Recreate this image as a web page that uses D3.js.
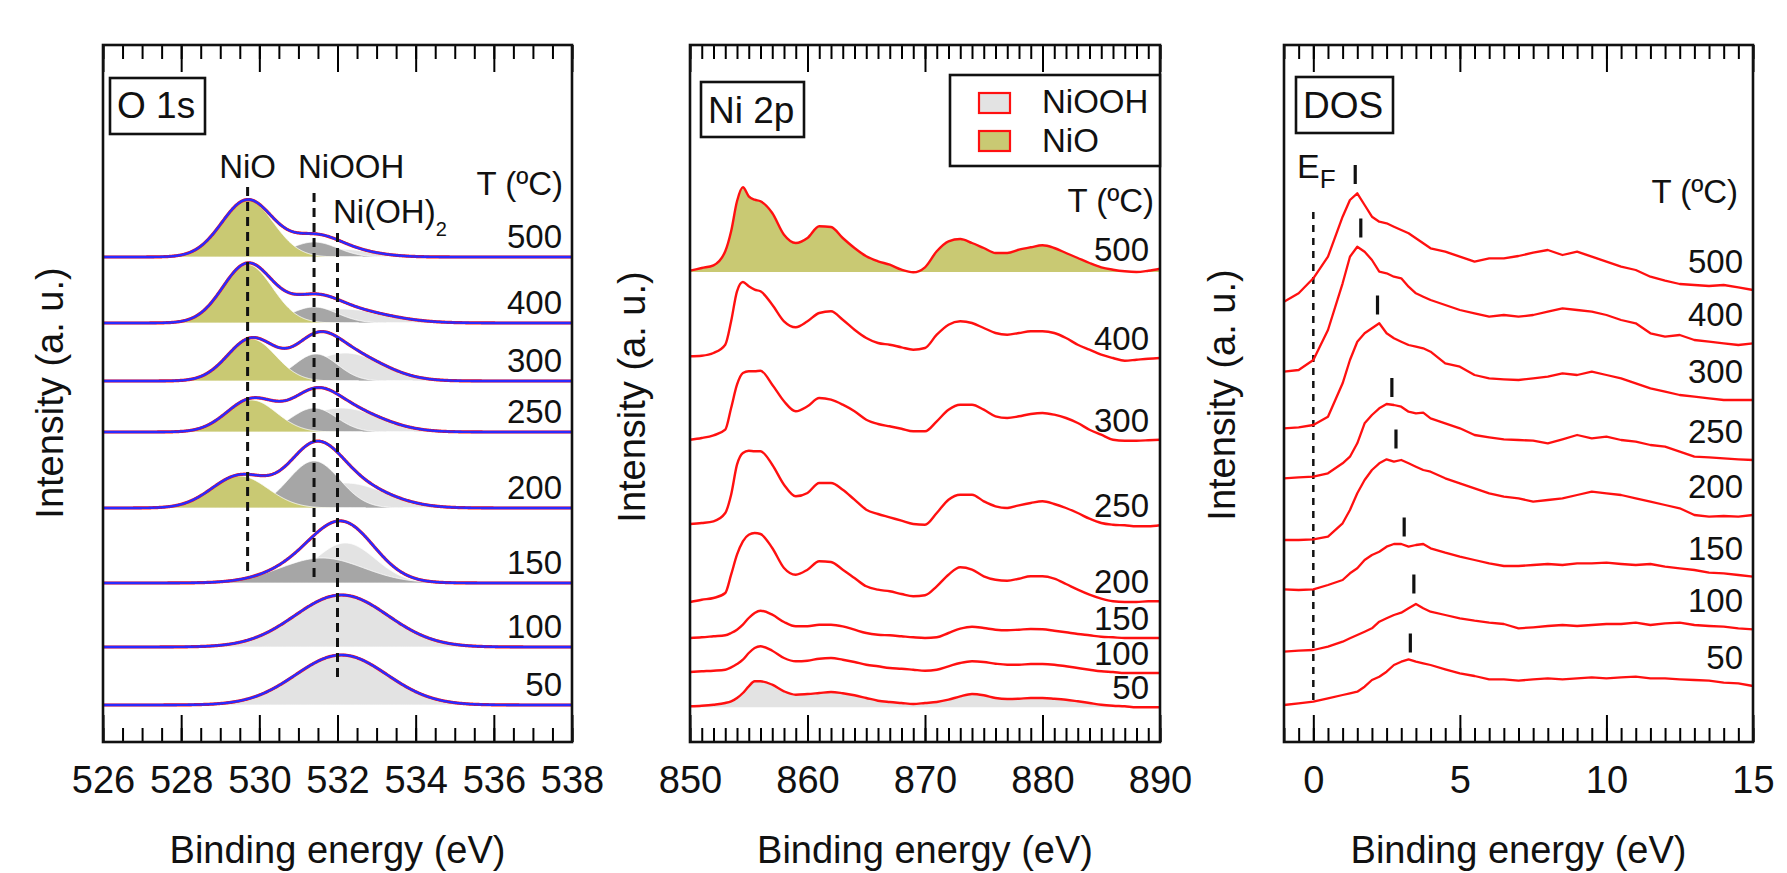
<!DOCTYPE html>
<html><head><meta charset="utf-8">
<script src="https://cdn.jsdelivr.net/npm/d3@7"></script>
<style>html,body{margin:0;padding:0;background:#fff;}svg{display:block;}</style>
</head><body><svg id="c" width="1787" height="873"></svg>
<script>
// ---------------- DATA ----------------
const temps = [500, 400, 300, 250, 200, 150, 100, 50];

// Panel 1: O 1s  (fitted components: [centre eV, height a.u., FWHM eV])
const o1sTicksMajor = [526, 528, 530, 532, 534, 536, 538];
const o1sBaseline = [48.5, 41.9, 36.1, 31.0, 23.4, 15.9, 9.5, 3.7];
const o1sNiO   = [[529.7,5.7,1.55],[529.7,5.85,1.5],[529.8,4.2,1.45],[529.8,3.2,1.5],[529.5,3.2,1.7],null,null,null];
const o1sNiOOH = [[531.4,1.5,1.4],[531.4,1.6,1.4],[531.45,2.7,1.3],[531.4,2.4,1.35],[531.4,4.7,1.55],[531.6,2.5,2.5],null,null];
const o1sNiOH2 = [[532.0,0.8,2.0],[532.1,1.4,2.6],[532.2,2.8,2.2],[532.1,2.4,2.3],[532.2,2.5,2.4],[532.2,4.0,1.8],[532.1,5.2,2.8],[532.1,5.0,2.75]];
const o1sRefEnergy = [529.7, 531.4, 532.0];
const o1sRefTop    = [55.5, 54.9, 50.9];
const o1sRefBottom = [16.9, 16.4, 6.4];

// Panel 2: Ni 2p
const ni2pTicksMajor = [850, 860, 870, 880, 890];
const ni2pEnergy = [850,851,852,853,853.5,854,854.5,855,855.5,856,857,858,859,860,861,862,863,864,865,866,867,868,869,870,871,872,873,874,875,876,877,878,879,880,881,882,883,884,885,886,887,888,889,890];
const ni2p500 = [47.13,47.4,47.67,49.07,51.07,54.07,55.47,54.57,54.23,54.07,52.9,50.73,49.9,50.4,51.57,51.5,50.4,49.4,48.57,48.07,47.73,47.23,46.97,47.47,49.07,50.07,50.3,49.9,49.4,48.9,48.9,49.23,49.47,49.67,49.4,48.9,48.4,47.9,47.47,47.23,47.07,47.0,47.13,47.33];
const ni2p400 = [38.57,38.63,38.9,39.73,42.07,45.07,46.0,45.57,45.23,45.07,43.73,42.07,41.47,42.07,42.9,43.07,42.23,41.23,40.4,39.9,39.73,39.47,39.23,39.4,40.73,41.73,42.07,41.9,41.4,40.9,40.73,40.9,41.07,41.07,40.9,40.4,39.73,39.23,38.73,38.4,38.13,38.23,38.33,38.4];
const ni2p300 = [30.23,30.4,30.67,31.23,33.4,35.73,36.9,37.07,37.07,37.13,35.73,34.07,33.07,33.57,34.4,34.23,33.73,33.07,32.23,31.8,31.57,31.33,31.07,31.07,32.07,33.23,33.73,33.73,33.23,32.57,32.4,32.57,32.8,32.9,32.73,32.4,31.9,31.23,30.73,30.23,30.13,30.13,30.17,30.23];
const ni2p250 = [21.8,21.9,22.07,22.9,24.73,27.73,28.9,29.13,29.07,29.07,27.73,25.73,24.57,24.9,25.9,25.9,25.23,24.23,23.23,22.8,22.47,22.13,21.8,21.73,22.9,24.23,24.73,24.73,24.07,23.57,23.4,23.67,23.9,24.07,23.8,23.4,22.9,22.33,21.9,21.73,21.67,21.57,21.57,21.67];
const ni2p200 = [14.0,14.23,14.4,14.9,16.73,18.73,20.07,20.73,20.9,20.8,19.4,17.4,16.73,17.23,18.07,18.0,17.23,16.4,15.57,15.23,15.07,14.8,14.57,14.67,15.57,16.73,17.47,17.23,16.57,16.23,16.13,16.33,16.57,16.57,16.33,15.8,15.23,14.73,14.33,14.07,14.0,14.0,14.07,14.07];
const ni2p150 = [10.4,10.47,10.57,10.67,10.9,11.23,11.73,12.4,12.9,13.13,12.73,12.0,11.57,11.57,11.73,11.73,11.57,11.23,10.9,10.73,10.67,10.57,10.47,10.4,10.47,10.9,11.33,11.53,11.4,11.23,11.17,11.23,11.3,11.27,11.13,10.97,10.8,10.67,10.53,10.47,10.4,10.4,10.4,10.4];
const ni2p100 = [7.0,7.07,7.13,7.23,7.47,7.8,8.23,8.9,9.4,9.57,9.13,8.4,8.07,8.13,8.33,8.4,8.23,8.0,7.73,7.57,7.4,7.33,7.23,7.13,7.23,7.57,7.9,8.07,8.0,7.83,7.73,7.73,7.8,7.8,7.73,7.57,7.4,7.23,7.07,7.0,6.9,6.9,6.9,6.9];
const ni2p50  = [3.57,3.63,3.73,3.9,4.07,4.4,4.9,5.57,6.07,6.07,5.73,5.07,4.73,4.8,4.9,5.0,4.87,4.67,4.4,4.13,4.0,3.9,3.8,3.9,4.0,4.23,4.57,4.8,4.67,4.4,4.3,4.33,4.4,4.4,4.33,4.23,4.07,3.9,3.73,3.63,3.57,3.47,3.47,3.47];
const ni2pSeries = [ni2p500, ni2p400, ni2p300, ni2p250, ni2p200, ni2p150, ni2p100, ni2p50];
const ni2pFillIndex = [0, 7];
const ni2pFillBase  = [47.0, 3.47];
const ni2pFillPhase = ['NiO', 'NiOOH'];
const legendLabels = ['NiOOH', 'NiO'];

// Panel 3: DOS
const dosTicksMajor = [0, 5, 10, 15];
const dosEnergy = [-1,-0.5,0,0.5,1,1.25,1.5,1.75,2,2.25,2.5,2.75,3,3.25,3.5,3.75,4,4.5,5,5.5,6,6.5,7,7.5,8,8.5,9,9.5,10,10.5,11,11.5,12,12.5,13,13.5,14,14.5,15];
const dos500 = [44.03,44.87,46.37,48.53,52.53,54.2,54.87,53.7,52.53,52.03,51.87,51.53,51.2,50.87,50.37,49.87,49.37,49.03,48.53,48.03,48.37,48.37,48.6,48.93,49.2,48.7,49.03,48.53,48.03,47.53,47.2,46.53,46.13,45.8,45.7,45.6,45.7,45.47,45.2];
const dos400 = [37.03,37.2,38.2,41.2,45.87,48.53,49.53,49.03,48.2,47.03,46.87,46.53,46.37,45.53,44.87,44.53,44.2,43.7,43.2,42.87,42.53,42.7,42.53,42.7,43.03,43.37,43.2,43.03,42.7,42.2,41.87,40.87,40.53,40.7,40.2,40.03,39.87,39.7,39.87];
const dos300 = [31.37,31.47,31.7,32.53,35.87,38.2,40.03,40.87,41.37,41.87,40.87,40.37,40.03,39.7,39.53,39.37,39.03,37.87,37.53,36.7,36.37,36.27,36.2,36.37,36.53,36.87,36.7,37.03,36.7,36.37,35.87,35.37,35.03,34.7,34.53,34.37,34.2,34.2,34.2];
const dos250 = [26.37,26.47,26.53,26.87,27.87,28.53,29.87,31.87,32.7,33.37,33.8,33.7,33.53,33.03,32.87,32.93,32.37,31.87,31.37,30.7,30.47,30.27,30.2,30.13,29.87,30.27,30.7,30.37,30.53,30.2,30.03,29.7,29.53,29.03,28.53,28.47,28.37,28.27,28.2];
const dos200 = [20.2,20.2,20.27,20.53,21.87,23.2,24.87,26.2,27.2,27.87,28.27,28.03,28.2,27.87,27.53,27.2,27.03,26.37,25.87,25.37,24.87,24.53,24.37,24.03,24.2,24.37,24.7,25.03,24.87,24.7,24.37,24.03,23.7,23.37,22.7,22.53,22.6,22.53,22.7];
const dos150 = [15.27,15.2,15.27,15.7,16.2,16.87,17.37,18.2,18.7,19.03,19.53,19.8,19.8,19.53,19.7,19.8,19.37,18.93,18.53,18.2,17.87,17.6,17.6,17.7,17.8,17.7,17.87,17.87,17.93,17.8,17.7,17.8,17.53,17.37,17.2,16.93,16.87,16.7,16.53];
const dos100 = [9.03,9.13,9.2,9.53,10.03,10.37,10.7,11.03,11.37,12.03,12.37,12.7,12.93,13.37,13.8,13.37,13.03,12.7,12.37,12.13,11.93,11.8,11.37,11.47,11.6,11.7,11.6,11.7,11.8,11.8,11.93,11.7,11.87,11.93,11.7,11.6,11.53,11.37,11.27];
const dos50  = [3.7,3.87,4.03,4.37,4.7,4.87,5.03,5.53,6.2,6.53,7.03,7.7,8.03,8.27,8.03,7.87,7.7,7.27,6.87,6.6,6.27,6.27,6.13,6.27,6.37,6.27,6.37,6.47,6.37,6.47,6.53,6.37,6.37,6.27,6.2,6.13,5.93,5.87,5.6];
const dosSeries = [dos500, dos400, dos300, dos250, dos200, dos150, dos100, dos50];
const dosMarkE = [1.43, 1.62, 2.19, 2.68, 2.82, 3.1, 3.43, 3.31];
const dosMarkI = [56.75, 51.4, 43.7, 35.45, 30.3, 21.5, 15.8, 9.9];
const dosFermiTop = 53.0, dosFermiBottom = 3.7;

// ---------------- DRAWING ----------------
const FONT = '"Liberation Sans", Arial, Helvetica, sans-serif';
const C = { NiO: '#c9c973', NiOOH: '#a6a6a6', NiOH2: '#e3e3e3', red: '#ff1010', blue: '#2a2aff' };
const LEG_FILL = { NiO: '#c9c973', NiOOH: '#e3e3e3' };
const TOP = 45, BOT = 742;
const svg = d3.select('#c');
const y = d3.scaleLinear().domain([0, 69.7]).range([BOT, TOP]);

const x1 = d3.scaleLinear().domain([526, 538]).range([103, 572]);
const x2 = d3.scaleLinear().domain([850, 890]).range([690, 1160]);
const x3 = d3.scaleLinear().domain([-1, 15]).range([1284, 1753]);

function minorRange(a, b, s) { const r = []; for (let v = a; v <= b + 1e-9; v += s) r.push(+v.toFixed(3)); return r; }

function axes(x, majors, minors, labels) {
  const clean = g => { g.select('.domain').remove(); g.selectAll('line').attr('stroke-width', 2); };
  svg.append('g').attr('transform', `translate(0,${BOT})`).call(d3.axisBottom(x).tickValues(minors).tickSize(-14).tickFormat('')).call(clean);
  svg.append('g').attr('transform', `translate(0,${TOP})`).call(d3.axisTop(x).tickValues(minors).tickSize(-14).tickFormat('')).call(clean);
  svg.append('g').attr('transform', `translate(0,${TOP})`).call(d3.axisTop(x).tickValues(majors).tickSize(-27).tickFormat('')).call(clean);
  const gb = svg.append('g').attr('transform', `translate(0,${BOT})`).call(d3.axisBottom(x).tickValues(majors).tickSize(-27).tickPadding(24).tickFormat(d3.format('d'))).call(clean);
  gb.attr('font-size', 38).attr('font-family', FONT);
  gb.selectAll('text').attr('fill', '#111');
  const xr = x.range();
  svg.append('text').attr('x', (xr[0] + xr[1]) / 2).attr('y', 863).attr('text-anchor', 'middle')
    .attr('font-size', 38).attr('font-family', FONT).attr('fill', '#111').text('Binding energy (eV)');
}
function frame(x) {
  const r = x.range();
  svg.append('rect').attr('x', r[0]).attr('y', TOP).attr('width', r[1] - r[0]).attr('height', BOT - TOP)
    .attr('fill', 'none').attr('stroke', '#111').attr('stroke-width', 2.6);
}
function ytitle(xp, yp) {
  svg.append('text').attr('transform', `translate(${xp},${yp}) rotate(-90)`).attr('text-anchor', 'middle')
    .attr('font-size', 38).attr('font-family', FONT).attr('fill', '#111').text('Intensity (a. u.)');
}
function boxLabel(bx, by, bw, bh, tx, ty, s) {
  svg.append('rect').attr('x', bx).attr('y', by).attr('width', bw).attr('height', bh).attr('fill', '#fff').attr('stroke', '#111').attr('stroke-width', 2.6);
  svg.append('text').attr('x', tx).attr('y', ty).attr('font-size', 37).attr('font-family', FONT).attr('fill', '#111').text(s);
}
function txt(xp, yp, s, size, anchor) {
  return svg.append('text').attr('x', xp).attr('y', yp).attr('font-size', size).attr('font-family', FONT)
    .attr('fill', '#111').attr('text-anchor', anchor || 'start').text(s);
}
function gauss(E, p) { if (!p) return 0; const s = p[2] / 2.35482; return p[1] * Math.exp(-((E - p[0]) ** 2) / (2 * s * s)); }

// ---- Panel 1 ----
const eFine = d3.range(0, 601).map(i => 526 + i * 0.02);
const area = d3.area().x(d => x1(d[0])).y0(d => y(d[1])).y1(d => y(d[2]));
const lineXY = (xs) => d3.line().x(d => xs(d[0])).y(d => y(d[1]));
temps.forEach((t, i) => {
  const b = o1sBaseline[i];
  [[o1sNiOH2[i], C.NiOH2], [o1sNiOOH[i], C.NiOOH], [o1sNiO[i], C.NiO]].forEach(([p, col]) => {
    if (!p) return;
    const pts = eFine.filter(e => Math.abs(e - p[0]) < p[2] * 1.9).map(e => [e, b, b + gauss(e, p)]);
    svg.append('path').attr('d', area(pts)).attr('fill', col).attr('stroke', '#fff').attr('stroke-width', 0.8);
  });
  const env = eFine.map(e => [e, b + gauss(e, o1sNiO[i]) + gauss(e, o1sNiOOH[i]) + gauss(e, o1sNiOH2[i])]);
  svg.append('path').attr('d', lineXY(x1)(env)).attr('fill', 'none').attr('stroke', C.red).attr('stroke-width', 3.2);
  svg.append('path').attr('d', lineXY(x1)(env)).attr('fill', 'none').attr('stroke', C.blue).attr('stroke-width', 2.4);
  txt(x1(538) - 10, y(b) - 9, String(t), 33, 'end');
});
o1sRefEnergy.forEach((e, k) => {
  svg.append('line').attr('x1', x1(e)).attr('x2', x1(e)).attr('y1', y(o1sRefTop[k])).attr('y2', y(o1sRefBottom[k]))
    .attr('stroke', '#111').attr('stroke-width', 3).attr('stroke-dasharray', '9,6');
});
txt(x1(529.7), 178, 'NiO', 33, 'middle');
txt(x1(532.35), 178, 'NiOOH', 33, 'middle');
const noh = txt(333, 223, 'Ni(OH)', 33, 'start');
noh.append('tspan').attr('font-size', 20).attr('dy', 13).text('2');
txt(563, 195, 'T (ºC)', 33, 'end');
axes(x1, o1sTicksMajor, minorRange(526, 538, 0.5), o1sTicksMajor);
frame(x1);
boxLabel(110, 78, 95, 56, 117, 118, 'O 1s');
ytitle(63, 393);

// ---- Panel 2 ----
const smooth = (xs) => d3.line().x(d => xs(d[0])).y(d => y(d[1])).curve(d3.curveMonotoneX);
ni2pFillIndex.forEach((idx, k) => {
  const base = ni2pFillBase[k];
  const pts = ni2pEnergy.map((e, j) => [e, base, Math.max(base, ni2pSeries[idx][j])]);
  svg.append('path').attr('d', d3.area().x(d => x2(d[0])).y0(d => y(d[1])).y1(d => y(d[2])).curve(d3.curveMonotoneX)(pts))
    .attr('fill', LEG_FILL[ni2pFillPhase[k]]);
});
ni2pSeries.forEach((s, i) => {
  const pts = ni2pEnergy.map((e, j) => [e, s[j]]);
  svg.append('path').attr('d', smooth(x2)(pts)).attr('fill', 'none').attr('stroke', C.red).attr('stroke-width', 2.4);
  txt(x2(890) - 11, y(s[s.length - 1]) - 8, String(temps[i]), 33, 'end');
});
txt(1154, 212, 'T (ºC)', 33, 'end');
axes(x2, ni2pTicksMajor, minorRange(850, 890, 1), ni2pTicksMajor);
frame(x2);
boxLabel(701, 82, 103, 55, 708, 123, 'Ni 2p');
svg.append('rect').attr('x', 950).attr('y', 75).attr('width', 210).attr('height', 91).attr('fill', '#fff').attr('stroke', '#111').attr('stroke-width', 2.6);
legendLabels.forEach((lab, k) => {
  const yy = k === 0 ? 93 : 131;
  svg.append('rect').attr('x', 979).attr('y', yy).attr('width', 31).attr('height', 20)
    .attr('fill', LEG_FILL[lab]).attr('stroke', C.red).attr('stroke-width', 2.2);
  txt(1042, k === 0 ? 113 : 152, lab, 33, 'start');
});
ytitle(645, 397);

// ---- Panel 3 ----
const jag = (xs) => d3.line().x(d => xs(d[0])).y(d => y(d[1]));
svg.append('line').attr('x1', x3(0)).attr('x2', x3(0)).attr('y1', y(dosFermiTop)).attr('y2', y(dosFermiBottom))
  .attr('stroke', '#111').attr('stroke-width', 2.5).attr('stroke-dasharray', '7,6');
dosSeries.forEach((s, i) => {
  const pts = dosEnergy.map((e, j) => [e, s[j]]);
  svg.append('path').attr('d', jag(x3)(pts)).attr('fill', 'none').attr('stroke', C.red).attr('stroke-width', 2.3).attr('stroke-linejoin', 'round');
  txt(x3(15) - 10, y(s[s.length - 1]) - 17, String(temps[i]), 33, 'end');
});
dosMarkE.forEach((e, k) => {
  svg.append('line').attr('x1', x3(e)).attr('x2', x3(e)).attr('y1', y(dosMarkI[k]) - 9.5).attr('y2', y(dosMarkI[k]) + 9.5)
    .attr('stroke', '#111').attr('stroke-width', 3.2);
});
const ef = txt(1297, 178, 'E', 34, 'start');
ef.append('tspan').attr('font-size', 26).attr('dy', 10).text('F');
txt(1738, 203, 'T (ºC)', 33, 'end');
axes(x3, dosTicksMajor, minorRange(-1, 15, 0.5), dosTicksMajor);
frame(x3);
boxLabel(1296, 77, 97, 56, 1303, 118, 'DOS');
ytitle(1235, 395);
</script></body></html>
